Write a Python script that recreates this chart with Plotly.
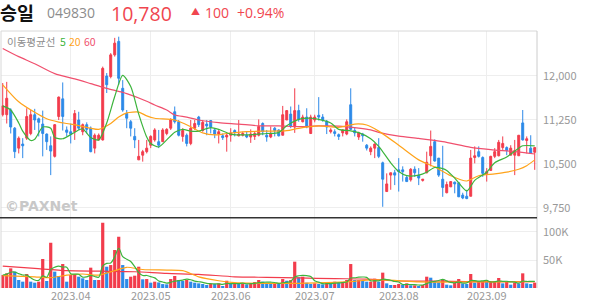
import pandas as pd
import plotly.graph_objects as go

# ---------------- data ----------------
holidays = ["2023-05-01", "2023-05-05", "2023-05-29", "2023-06-06", "2023-08-15"]
days = [d for d in pd.bdate_range("2023-03-09", "2023-09-19") if d.strftime("%Y-%m-%d") not in holidays]
month_labels = ["2023.04", "2023.05", "2023.06", "2023.07", "2023.08", "2023.09"]

opens = [11340, 11340, 11420, 11110, 10770, 10840, 10940, 11020, 11340, 11270,
         11180, 11010, 10810, 10630, 11310, 11610, 11080, 11050, 11050, 11250,
         11050, 11170, 11110, 10770, 10910, 10910, 12000, 11990, 12360, 12590,
         11790, 11360, 11220, 10970, 10570, 10650, 10710, 10820, 10910, 10880,
         10880, 11020, 11110, 11390, 11220, 10970, 10990, 10850, 11110, 11300,
         11070, 11180, 11240, 11080, 11010, 10980, 10960, 10990, 11070, 10980,
         10990, 10990, 10960, 10970, 10990, 11190, 10990, 10960, 11110, 11080,
         10990, 11250, 11350, 11130, 11410, 11220, 11300, 11020, 11250, 11330,
         11300, 11230, 11050, 11050, 11000, 11030, 11010, 11510, 11070, 10960,
         11010, 10820, 10710, 10770, 10780, 10520, 10030, 10310, 10350, 10400,
         10400, 10270, 10230, 10410, 10310, 10220, 10350, 10640, 10880, 10600,
         10240, 10010, 10110, 10190, 10180, 9970, 9950, 9950, 10610, 10710,
         10610, 10340, 10390, 10630, 10640, 10780, 10780, 10650, 10650, 10640,
         11200, 10900, 10770, 10700]
highs = [11880, 11900, 11450, 11130, 10970, 10940, 11450, 11420, 11440, 11290,
         11410, 11020, 10970, 11180, 11650, 11890, 11140, 11190, 11420, 11390,
         11190, 11210, 11140, 11020, 11020, 12160, 12050, 12390, 12650, 12670,
         11930, 11420, 11250, 11110, 10910, 10740, 10910, 10990, 11110, 11080,
         11110, 11110, 11280, 11480, 11250, 11110, 11020, 11250, 11250, 11320,
         11250, 11250, 11250, 11110, 11080, 11020, 11020, 11110, 11090, 11250,
         11050, 11050, 11090, 11050, 11260, 11210, 11080, 11140, 11130, 11090,
         11490, 11420, 11480, 11790, 11510, 11340, 11450, 11340, 11340, 11640,
         11350, 11250, 11110, 11090, 11020, 11090, 11260, 11790, 11130, 11050,
         11030, 10840, 10800, 10850, 10940, 10540, 10340, 10350, 10400, 10600,
         10460, 10310, 10430, 10460, 10430, 10240, 10710, 11070, 10920, 10600,
         10810, 10200, 10200, 10200, 10180, 10010, 10060, 10740, 10800, 10800,
         10630, 10430, 10640, 10770, 10910, 10970, 10800, 10820, 10910, 10990,
         11420, 10970, 10990, 10780]
lows = [11310, 11190, 11020, 10600, 10680, 10600, 10910, 10990, 11080, 10970,
        10630, 10740, 10310, 10610, 11250, 11070, 10970, 10850, 10910, 11080,
        10990, 11020, 10700, 10680, 10900, 10900, 11710, 11960, 12330, 11850,
        11390, 11110, 10970, 10770, 10570, 10540, 10680, 10770, 10880, 10770,
        10880, 10990, 11080, 11190, 10970, 10880, 10800, 10820, 11080, 11130,
        11050, 10990, 11020, 10940, 10850, 10910, 10710, 10880, 10970, 10970,
        10970, 10940, 10860, 10910, 10970, 10990, 10880, 10940, 10970, 10970,
        10990, 11250, 11110, 11030, 11220, 11210, 11110, 11010, 11210, 11240,
        11220, 11010, 11020, 10970, 10910, 10970, 10990, 11080, 10970, 10910,
        10880, 10730, 10650, 10600, 10600, 9770, 10030, 10060, 10140, 10030,
        10200, 10200, 10200, 10280, 10140, 10200, 10340, 10460, 10540, 10280,
        9940, 10000, 10110, 10000, 9940, 9900, 9900, 9950, 10510, 10610,
        10280, 10200, 10390, 10600, 10630, 10740, 10650, 10650, 10310, 10640,
        10900, 10680, 10680, 10400]
closes = [11490, 11620, 11130, 10710, 10940, 10810, 11310, 11340, 11250, 11210,
          11020, 10880, 10720, 11170, 11640, 11310, 11040, 11010, 11360, 11110,
          11170, 11090, 10710, 10990, 10990, 12130, 11850, 12360, 12560, 11960,
          11420, 11280, 11110, 10910, 10630, 10710, 10770, 10970, 11080, 10820,
          11080, 11090, 11250, 11220, 10990, 11070, 10850, 11110, 11190, 11170,
          11210, 11150, 11130, 11010, 11050, 10950, 10990, 11030, 11040, 11010,
          11020, 10960, 11010, 11020, 11140, 11050, 10960, 11010, 11070, 10980,
          11340, 11410, 11140, 11410, 11260, 11300, 11130, 11300, 11300, 11300,
          11250, 11130, 11080, 11020, 10970, 11080, 11220, 11090, 11030, 11030,
          10980, 10770, 10770, 10840, 10630, 10240, 10160, 10350, 10310, 10370,
          10370, 10200, 10410, 10350, 10260, 10240, 10530, 10800, 10550, 10310,
          10100, 10150, 10200, 10160, 9940, 9920, 9910, 10600, 10640, 10630,
          10340, 10370, 10630, 10710, 10870, 10850, 10730, 10770, 10730, 10990,
          10910, 10930, 10680, 10780]
volumes = [23200, 26200, 35100, 29200, 14300, 11300, 25000, 11300, 9500, 11300,
           51800, 12500, 80900, 29200, 21400, 42800, 11300, 23200, 25000, 20200,
           17300, 14300, 36300, 14300, 14300, 116600, 38000, 41000, 67800, 91600,
           41000, 16000, 20200, 22000, 38000, 15500, 16000, 9500, 11300, 10000,
           7000, 6500, 16000, 21400, 14300, 12500, 14300, 11300, 9500, 8300,
           7100, 5400, 8300, 7100, 8300, 3600, 13000, 7100, 8300, 7100,
           8300, 6500, 8300, 10700, 14300, 11300, 8300, 7100, 8300, 7100,
           16000, 13000, 14300, 47000, 19000, 20200, 9500, 7100, 8300, 7100,
           6500, 9500, 8300, 11300, 9500, 10700, 14300, 42800, 14300, 14300,
           12500, 11300, 11300, 16700, 11300, 27400, 8300, 5400, 5400, 7100,
           5400, 8300, 4800, 4800, 3600, 5400, 20200, 18400, 12500, 10100,
           16100, 6000, 4800, 9500, 16100, 8300, 7100, 25000, 9500, 11300,
           11300, 10700, 11300, 11300, 17900, 8300, 11300, 6000, 9500, 8300,
           26200, 8300, 7100, 9500]

# moving-average lines: (day index, value)
ma5_pts = [(0, 11490), (2, 11420), (4, 11200), (5, 11060), (7, 10900), (8, 10920), (10, 11130),
           (12, 11110), (13, 10950), (15, 10930), (17, 11000), (19, 11080), (20, 11100), (22, 10950),
           (24, 10910), (26, 11200), (28, 11650), (30, 12010), (32, 11820), (34, 11350), (36, 10960),
           (37, 10850), (39, 10790), (41, 10910), (43, 11040), (45, 11090), (47, 11060), (49, 11060),
           (52, 11120), (54, 11090), (57, 11010), (61, 10995), (66, 11020), (69, 11035), (71, 11150),
           (74, 11260), (77, 11280), (79, 11260), (82, 11200), (84, 11090), (87, 11065), (89, 11034),
           (92, 10930), (94, 10800), (97, 10520), (99, 10370), (101, 10300), (104, 10310), (106, 10360),
           (108, 10440), (110, 10420), (111, 10390), (113, 10260), (116, 10040), (118, 10220),
           (121, 10360), (123, 10520), (126, 10620), (129, 10770), (130, 10810), (133, 10810)]
ma20_pts = [(0, 11850), (4, 11560), (8, 11380), (11, 11270), (14, 11215), (16, 11190), (19, 11155),
            (22, 11110), (24, 11090), (27, 11190), (29, 11300), (31, 11370), (34, 11385), (36, 11320),
            (38, 11280), (43, 11250), (47, 11136), (50, 11030), (53, 10995), (56, 11020), (61, 11050),
            (66, 11060), (71, 11068), (74, 11108), (79, 11148), (84, 11125), (88, 11180), (91, 11165),
            (94, 11060), (99, 10820), (104, 10570), (108, 10450), (112, 10300), (116, 10210),
            (119, 10300), (123, 10330), (126, 10360), (129, 10410), (131, 10470), (133, 10570)]
ma60_pts = [(0, 12470), (4, 12330), (8, 12210), (13, 12040), (18, 11950), (22, 11870), (26, 11790),
            (31, 11700), (36, 11570), (38, 11505), (41, 11420), (43, 11335), (46, 11300), (49, 11250),
            (54, 11205), (59, 11180), (64, 11150), (69, 11148), (74, 11136), (79, 11148), (84, 11145),
            (89, 11110), (92, 11080), (94, 11040), (99, 10975), (104, 10935), (110, 10880),
            (117, 10784), (122, 10745), (128, 10710), (133, 10670)]
vma20_pts = [(0, 22000), (8, 20000), (12, 18400), (16, 23000), (20, 25000), (24, 23000), (28, 31000),
             (31, 37000), (35, 33000), (41, 32000), (45, 31000), (49, 20000), (54, 13000), (58, 9500),
             (66, 8300), (74, 8300), (83, 10000), (88, 12000), (91, 14000), (95, 14500), (99, 13000),
             (104, 11000), (110, 10500), (116, 11000), (124, 11000), (133, 11500)]
vma60_pts = [(0, 39000), (8, 35000), (16, 31000), (24, 30000), (33, 29000), (41, 26000), (49, 24400),
             (58, 20000), (66, 19000), (74, 18000), (83, 16700), (91, 16000), (99, 12500),
             (108, 12500), (116, 11300), (133, 11300)]

price_ticks = [9750, 10500, 11250, 12000]
vol_ticks = [50000, 100000]
vol_tick_text = ["50K", "100K"]

# ---------------- styling ----------------
RED = "#f23c4c"
BLUE = "#2d8ae8"
GREEN = "#3cb43c"
ORANGE = "#ffa31a"
PINK = "#f0506e"
GRID = "#eeeeee"
TXT = "#999999"
FONT = "Noto Sans CJK KR"

idx = list(range(len(days)))
month_first = [next(i for i, d in enumerate(days) if d.strftime("%Y.%m") == m) for m in month_labels]
vol_colors = [RED if i == 0 or volumes[i] >= volumes[i - 1] else BLUE for i in idx]
vma5 = pd.Series(volumes).rolling(5, min_periods=1).mean().tolist()

fig = go.Figure()
fig.add_trace(go.Candlestick(
    x=idx, open=opens, high=highs, low=lows, close=closes,
    increasing=dict(line=dict(color=RED, width=1), fillcolor=RED),
    decreasing=dict(line=dict(color=BLUE, width=1), fillcolor=BLUE),
    whiskerwidth=0, xaxis="x", yaxis="y", showlegend=False, hoverinfo="skip"))


def ma_line(pts, color, yaxis):
    return go.Scatter(x=[p[0] for p in pts], y=[p[1] for p in pts], mode="lines",
                      line=dict(color=color, width=1.2, shape="spline", smoothing=0.7),
                      xaxis="x", yaxis=yaxis, showlegend=False, hoverinfo="skip")


fig.add_trace(ma_line(ma60_pts, PINK, "y"))
fig.add_trace(ma_line(ma20_pts, ORANGE, "y"))
fig.add_trace(ma_line(ma5_pts, GREEN, "y"))

fig.add_trace(go.Bar(x=idx, y=volumes, marker=dict(color=vol_colors, line=dict(width=0)),
                     xaxis="x", yaxis="y2", showlegend=False, hoverinfo="skip"))
fig.add_trace(ma_line(vma60_pts, RED, "y2"))
fig.add_trace(ma_line(vma20_pts, ORANGE, "y2"))
fig.add_trace(go.Scatter(x=idx, y=vma5, mode="lines", line=dict(color=GREEN, width=1.2, shape="spline"),
                         xaxis="x", yaxis="y2", showlegend=False, hoverinfo="skip"))

SPLIT = 0.2735
fig.update_layout(
    width=594, height=304, margin=dict(l=1, r=57, t=31, b=16),
    paper_bgcolor="white", plot_bgcolor="white",
    bargap=0.2, boxgap=0.3,
    font=dict(family=FONT, color=TXT, size=11),
    xaxis=dict(range=[-0.43, 133.57], tickvals=month_first, ticktext=month_labels,
               showgrid=True, gridcolor=GRID, gridwidth=1, zeroline=False, showline=False,
               ticks="", anchor="y2", rangeslider=dict(visible=False),
               tickfont=dict(size=11, color=TXT, family=FONT)),
    yaxis=dict(domain=[SPLIT, 1], range=[9584, 12767], side="right", tickvals=price_ticks,
               tickformat=",", showgrid=True, gridcolor=GRID, zeroline=False, showline=False,
               ticks="", ticklabelstandoff=5, tickfont=dict(size=11, color=TXT, family=FONT)),
    yaxis2=dict(domain=[0, SPLIT], range=[0, 125500], side="right", tickvals=vol_ticks,
                ticktext=vol_tick_text, showgrid=True, gridcolor=GRID, zeroline=False, showline=False,
                ticks="", ticklabelstandoff=5, tickfont=dict(size=11, color=TXT, family=FONT)),
)

shapes = [
    dict(type="line", xref="paper", yref="paper", x0=0, x1=1, y0=1, y1=1, line=dict(color="#d8d8d8", width=1)),
    dict(type="line", xref="paper", yref="paper", x0=0, x1=0, y0=0, y1=1, line=dict(color="#d8d8d8", width=1)),
    dict(type="line", xref="paper", yref="paper", x0=1, x1=1, y0=0, y1=1, line=dict(color="#cccccc", width=1)),
    dict(type="line", xref="paper", yref="paper", x0=-0.01, x1=1, y0=SPLIT, y1=SPLIT, line=dict(color="#333333", width=1.5)),
]
fig.update_layout(shapes=shapes)


def ann(text, x, y, size, color, xanchor="left", bold=False, family=FONT):
    return dict(text=("<b>%s</b>" % text) if bold else text, x=x, y=y, xref="paper", yref="paper",
                xanchor=xanchor, yanchor="middle", showarrow=False, borderpad=0,
                font=dict(size=size, color=color, family=family))


HEAD_Y = 1.073
NUM_FONT = "Open Sans"
annotations = [
    ann("승일", -0.004, HEAD_Y, 18.5, "#111111", bold=True),
    ann("049830", 0.084, HEAD_Y, 14, "#8c8c8c", family=NUM_FONT),
    ann("10,780", 0.203, 1.069, 19.5, "#f0464f", family=NUM_FONT),
    ann("▲", 0.352, HEAD_Y + 0.004, 9, "#f0464f"),
    ann("100", 0.378, HEAD_Y, 14, "#f0464f", family=NUM_FONT),
    ann("+0.94%", 0.438, HEAD_Y, 14, "#f0464f", family=NUM_FONT),
    ann("이동평균선", 0.009, 0.961, 10.5, "#8c8c8c"),
    ann("5", 0.109, 0.961, 10.5, GREEN),
    ann("20", 0.125, 0.961, 10.5, ORANGE),
    ann("60", 0.153, 0.961, 10.5, PINK),
    ann("©PAXNet", 0.006, 0.319, 14, "#c8c8c8", bold=True, family="DejaVu Sans"),
]
fig.update_layout(annotations=annotations)

fig.write_html("out.html")
